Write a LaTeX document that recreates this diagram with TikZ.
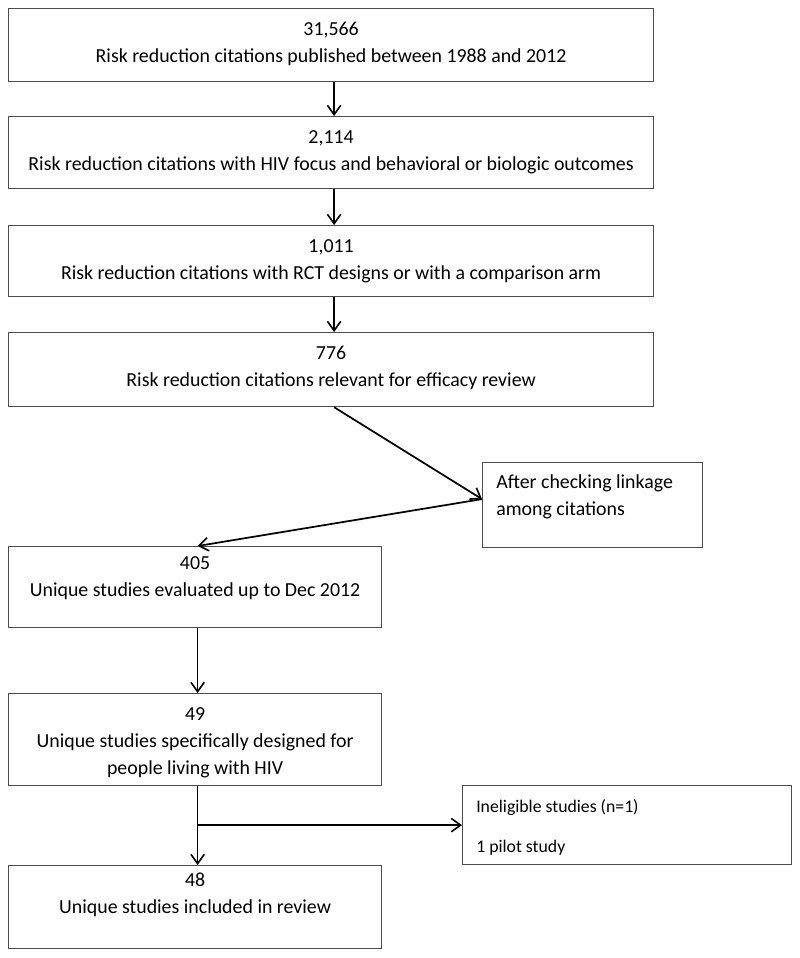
\documentclass[tikz,border=0pt]{standalone}
\usepackage{fontspec}
\setmainfont{Carlito}
\usetikzlibrary{arrows.meta, positioning, calc}

\begin{document}
\begin{tikzpicture}[x=0.75pt, y=-0.75pt,
        box/.style={draw=black!70, line width=0.9pt, anchor=north west, inner sep=0},
        txt/.style={anchor=north, align=center, inner sep=0, font=\fontsize{14.9}{20.25}\selectfont},
        ltxt/.style={anchor=north west, align=left, inner sep=0, font=\fontsize{14.9}{20.25}\selectfont},
        arr/.style={-{Straight Barb[length=7pt, width=10pt, line width=1.2pt]}, line width=1.3pt}]
        \useasboundingbox (0,0) rectangle (800,958);

        % boxes
        \node[box, minimum width=645*0.75pt, minimum height=73*0.75pt] (b1) at (8,8) {};
        \node[box, minimum width=645*0.75pt, minimum height=72*0.75pt] (b2) at (8,116) {};
        \node[box, minimum width=645*0.75pt, minimum height=71*0.75pt] (b3) at (8,225) {};
        \node[box, minimum width=645*0.75pt, minimum height=74*0.75pt] (b4) at (8,332) {};
        \node[box, minimum width=220*0.75pt, minimum height=85*0.75pt] (link) at (482,462) {};
        \node[box, minimum width=373*0.75pt, minimum height=81*0.75pt] (b5) at (8,546) {};
        \node[box, minimum width=373*0.75pt, minimum height=92*0.75pt] (b6) at (8,693) {};
        \node[box, minimum width=329*0.75pt, minimum height=79*0.75pt] (inel) at (462,785) {};
        \node[box, minimum width=373*0.75pt, minimum height=83*0.75pt] (b7) at (8,865) {};

        % texts
        \node[txt, below=10.5pt of b1.north] (t1) {31,566\\Risk reduction citations published between 1988 and 2012};
        \node[txt, below=10.5pt of b2.north] (t2) {2,114\\Risk reduction citations with HIV focus and behavioral or biologic outcomes};
        \node[txt, below=10.5pt of b3.north] (t3) {1,011\\Risk reduction citations with RCT designs or with a comparison arm};
        \node[txt, below=10.5pt of b4.north] (t4) {776\\Risk reduction citations relevant for efficacy review};
        \node[ltxt, below right=9.5pt and 10.5pt of link.north west] (tl) {After checking linkage\\among citations};
        \node[txt, below=8pt of b5.north] (t5) {405\\Unique studies evaluated up to Dec 2012};
        \node[txt, below=10.5pt of b6.north] (t6) {49\\Unique studies specifically designed for\\people living with HIV};
        \node[ltxt, below right=11pt and 10.5pt of inel.north west, font=\fontsize{13.3}{30}\selectfont] (ti) {Ineligible studies (n=1)\\ 1 pilot study};
        \node[txt, below=6pt of b7.north] (t7) {48\\Unique studies included in review};

        % arrows
        \draw[arr] ($(b1.south)+(3,0)$) -- ($(b2.north)+(3,0)$);
        \draw[arr] ($(b2.south)+(3,0)$) -- ($(b3.north)+(3,0)$);
        \draw[arr] ($(b3.south)+(3,0)$) -- ($(b4.north)+(3,0)$);
        \draw[arr] ($(b4.south)+(3,0)$) -- coordinate[pos=1] (hub) ($(link.west)+(0,-6)$);
        \draw[arr] (hub) -- ($(b5.north)+(2.5,0)$);
        \draw[arr] ($(b5.south)+(2.5,0)$) -- ($(b6.north)+(2.5,0)$);
        \draw[arr] ($(b6.south)+(2.5,0)$) -- ($(b7.north)+(2.5,0)$);
        \draw[arr] ($(b6.south)+(2.5,0)$) |- (inel.west);
\end{tikzpicture}
\end{document}
